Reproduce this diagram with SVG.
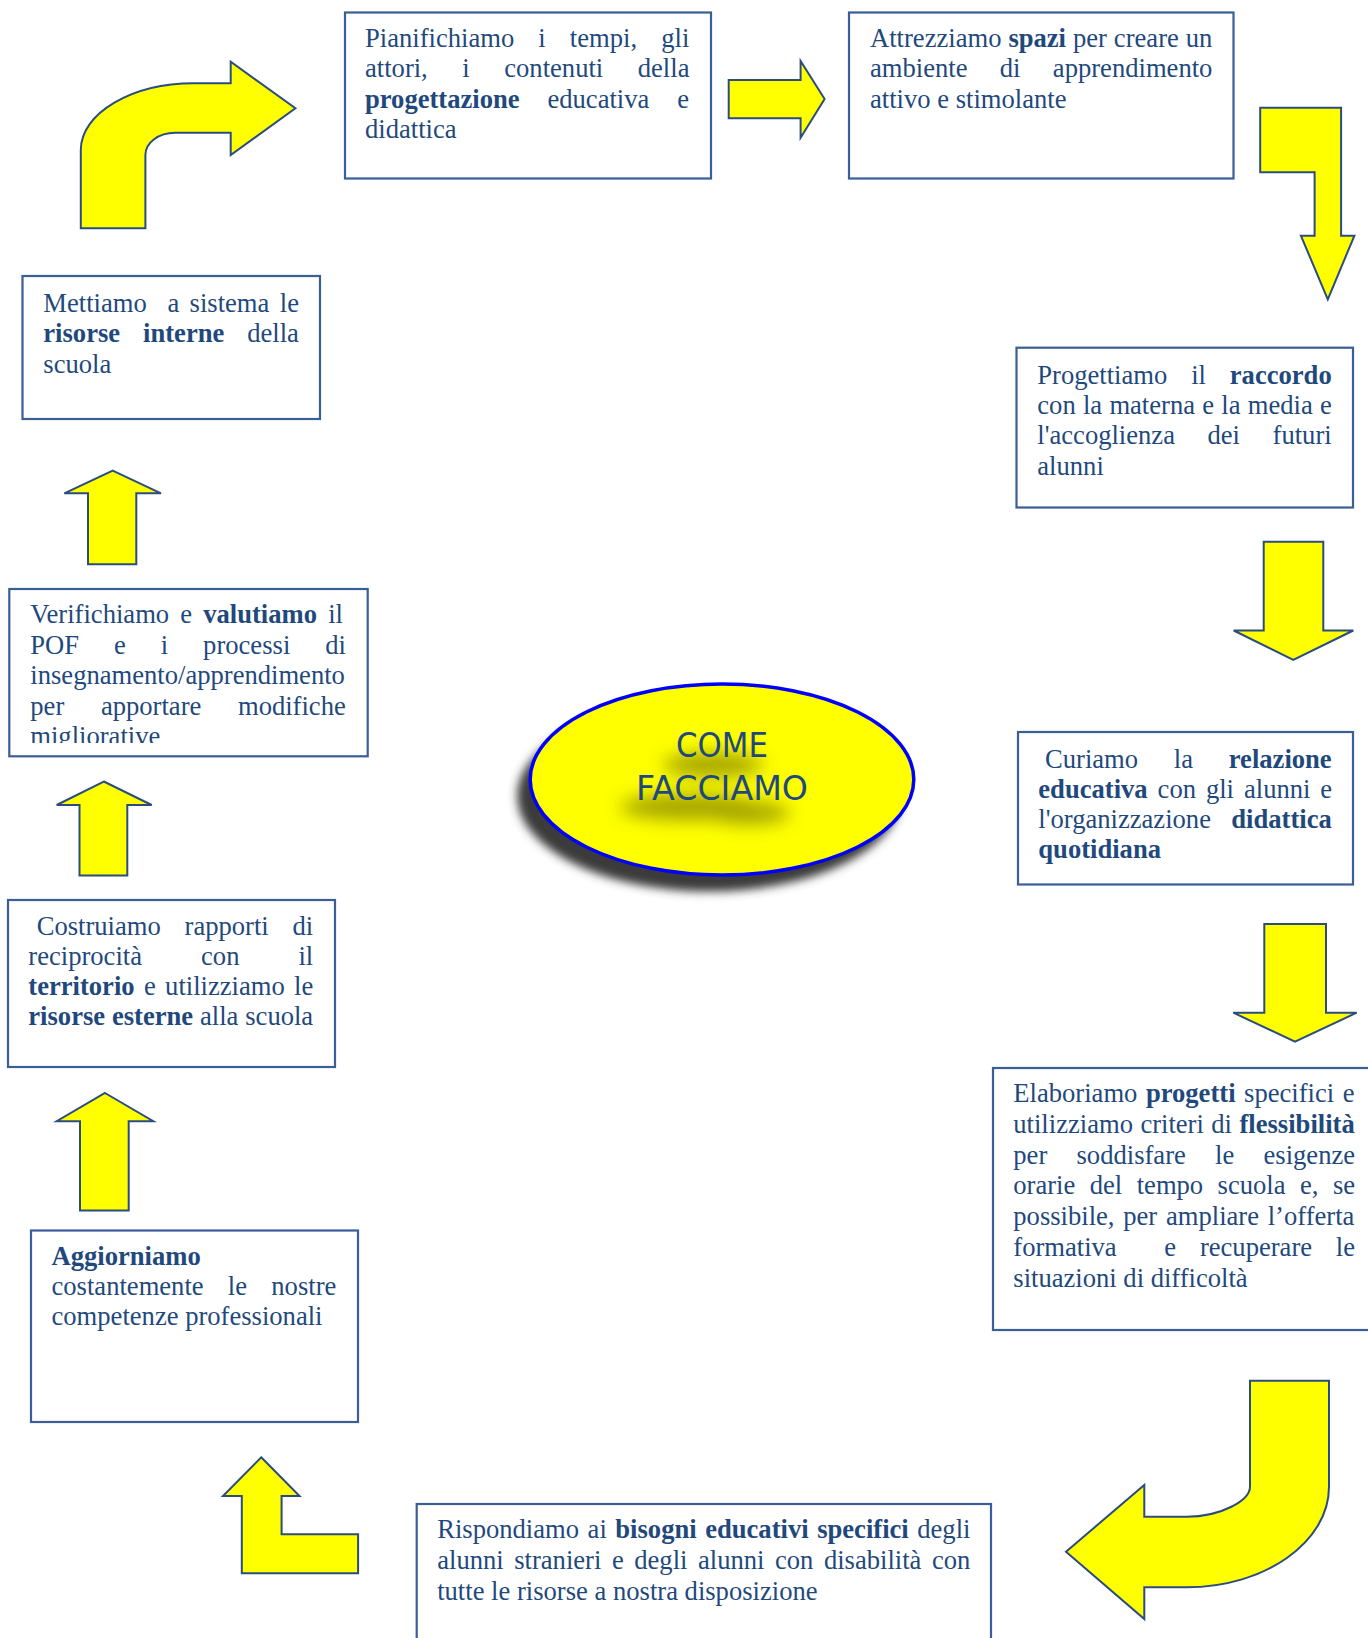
<svg xmlns="http://www.w3.org/2000/svg" width="1368" height="1638" viewBox="0 0 1368 1638">
<style>
.box{fill:#ffffff;stroke:#3A5E96;stroke-width:2.2}
.arr{fill:#FFFF00;stroke:#2B4C7E;stroke-width:2;stroke-linejoin:miter}
.t{font-family:"Liberation Serif","Times New Roman",serif;font-size:26.6px;fill:#1F497D}
.b{font-weight:bold}
.c{font-family:"Comic Sans MS","DejaVu Sans",sans-serif;font-size:33px;text-anchor:middle}
</style>
<defs>
<filter id="sh" x="-20%" y="-30%" width="140%" height="160%"><feGaussianBlur stdDeviation="5"/></filter>
<filter id="gl" x="-50%" y="-100%" width="200%" height="300%"><feGaussianBlur stdDeviation="9"/></filter>
<clipPath id="clip9"><rect x="9" y="589" width="359" height="154"/></clipPath>
</defs>

<g id="connectors">
<path class="arr" d="M80.8,228.3 L80.8,150 C80.8,113.3 131.6,83.3 193.8,83.3 L230.7,83.3 L230.7,61.7 L295.4,108.3 L230.7,155 L230.7,132.7 L175,132.7 C158.7,132.7 145.4,142.7 145.4,155 L145.4,228.3 Z"/>
<path class="arr" d="M728.7,80 L800.6,80 L800.6,61 L824.6,99 L800.6,137.7 L800.6,118.3 L728.7,118.3 Z"/>
<path class="arr" d="M1260.2,107.7 L1341.1,107.7 L1341.1,235.7 L1354.4,235.7 L1327.8,299.3 L1300.9,235.7 L1314.6,235.7 L1314.6,172.3 L1260.2,172.3 Z"/>
<path class="arr" d="M1263.7,541.8 L1323.3,541.8 L1323.3,630.5 L1353.3,630.5 L1293.3,660 L1233.7,630.5 L1263.7,630.5 Z"/>
<path class="arr" d="M1264.3,924 L1326,924 L1326,1012.7 L1356.7,1012.7 L1295,1041.7 L1233.3,1012.7 L1264.3,1012.7 Z"/>
<path class="arr" d="M1250,1380.7 L1329,1380.7 L1329,1486.7 C1329,1542 1265,1587.3 1186.7,1587.3 L1144.3,1587.3 L1144.3,1619 L1066,1551.7 L1144.3,1485 L1144.3,1516.7 L1186.7,1516.7 C1221.5,1516.7 1250,1500.2 1250,1486.7 Z"/>
<path class="arr" d="M261.2,1457.3 L299.5,1496 L281.6,1496 L281.6,1534.3 L358.1,1534.3 L358.1,1573.3 L241.8,1573.3 L241.8,1496 L223,1496 Z"/>
<path class="arr" d="M105,1093 L153.3,1121.2 L128.7,1121.2 L128.7,1210.5 L80,1210.5 L80,1121.2 L56.7,1121.2 Z"/>
<path class="arr" d="M103.8,781.5 L151.7,805 L127.3,805 L127.3,875.5 L79.5,875.5 L79.5,805 L56.7,805 Z"/>
<path class="arr" d="M112.7,470.7 L161,493.3 L136.3,493.3 L136.3,564.3 L88,564.3 L88,493.3 L64.3,493.3 Z"/>
</g>

<g id="center">
<ellipse cx="709" cy="796" rx="191.8" ry="95.5" fill="#3a3a3a" filter="url(#sh)"/>
<ellipse cx="722" cy="779.5" rx="191.8" ry="95.5" fill="#FFFF00" stroke="#0000FF" stroke-width="3.5"/>
<g filter="url(#gl)" fill="#8c8c00" opacity="0.8">
<ellipse cx="713" cy="765" rx="50" ry="12"/>
<ellipse cx="690" cy="807" rx="70" ry="13"/>
<ellipse cx="748" cy="813" rx="42" ry="11"/>
</g>
<text class="c" x="722" y="756.7" fill="#1F497D" textLength="92" lengthAdjust="spacingAndGlyphs">COME</text>
<text class="c" x="722" y="800" fill="#1F497D" textLength="172" lengthAdjust="spacingAndGlyphs">FACCIAMO</text>
</g>

<g id="n1">
<rect class="box" x="345" y="12.5" width="366" height="166"/>
<text class="t" x="365" y="46.5" style="word-spacing:17.5px">Pianifichiamo i tempi, gli</text>
<text class="t" x="365" y="77.1" style="word-spacing:27.9px">attori, i contenuti della</text>
<text class="t" x="365" y="107.7" style="word-spacing:21.2px"><tspan class="b">progettazione</tspan> educativa e</text>
<text class="t" x="365" y="138.3">didattica</text>
</g>

<g id="n2">
<rect class="box" x="849" y="12.5" width="384.5" height="166"/>
<text class="t" x="870" y="46.5" style="word-spacing:0.3px">Attrezziamo <tspan class="b">spazi</tspan> per creare un</text>
<text class="t" x="870" y="77.1" style="word-spacing:25.7px">ambiente di apprendimento</text>
<text class="t" x="870" y="107.7">attivo e stimolante</text>
</g>

<g id="n3">
<rect class="box" x="1016.5" y="347.7" width="336.5" height="159.8"/>
<text class="t" x="1037.3" y="383.5" style="word-spacing:17.2px">Progettiamo il <tspan class="b">raccordo</tspan></text>
<text class="t" x="1037.3" y="413.9" style="word-spacing:0.6px">con la materna e la media e</text>
<text class="t" x="1037.3" y="444.3" style="word-spacing:25.9px">l'accoglienza dei futuri</text>
<text class="t" x="1037.3" y="474.7">alunni</text>
</g>

<g id="n4">
<rect class="box" x="1018" y="732" width="335" height="152.5"/>
<text class="t" x="1045" y="767.5" style="word-spacing:29.1px">Curiamo la <tspan class="b">relazione</tspan></text>
<text class="t" x="1038.3" y="797.8" style="word-spacing:3.3px"><tspan class="b">educativa</tspan> con gli alunni e</text>
<text class="t" x="1038.3" y="828.1" style="word-spacing:13.7px">l'organizzazione <tspan class="b">didattica</tspan></text>
<text class="t" x="1038.3" y="858.4"><tspan class="b">quotidiana</tspan></text>
</g>

<g id="n5">
<rect class="box" x="993" y="1068" width="385" height="262"/>
<text class="t" x="1013.3" y="1102.3" style="word-spacing:1.9px">Elaboriamo <tspan class="b">progetti</tspan> specifici e</text>
<text class="t" x="1013.3" y="1133" style="word-spacing:0.8px">utilizziamo criteri di <tspan class="b">flessibilità</tspan></text>
<text class="t" x="1013.3" y="1163.7" style="word-spacing:22.6px">per soddisfare le esigenze</text>
<text class="t" x="1013.3" y="1194.4" style="word-spacing:7.8px">orarie del tempo scuola e, se</text>
<text class="t" x="1013.3" y="1225.1" style="word-spacing:2.1px">possibile, per ampliare l’offerta</text>
<text class="t" x="1013.3" y="1255.8">formativa</text>
<text class="t" x="1164.3" y="1255.8">e</text>
<text class="t" x="1199.9" y="1255.8">recuperare</text>
<text class="t" x="1355" y="1255.8" text-anchor="end">le</text>
<text class="t" x="1013.3" y="1286.5">situazioni di difficoltà</text>
</g>

<g id="n6">
<rect class="box" x="416.7" y="1504" width="574.3" height="145"/>
<text class="t" x="437.2" y="1538.3" style="word-spacing:1.9px">Rispondiamo ai <tspan class="b">bisogni educativi specifici</tspan> degli</text>
<text class="t" x="437.2" y="1569.1" style="word-spacing:3.9px">alunni stranieri e degli alunni con disabilità con</text>
<text class="t" x="437.2" y="1599.9">tutte le risorse a nostra disposizione</text>
</g>

<g id="n7">
<rect class="box" x="31" y="1230.5" width="327" height="191.5"/>
<text class="t" x="51.5" y="1264.5"><tspan class="b">Aggiorniamo</tspan></text>
<text class="t" x="51.5" y="1294.9" style="word-spacing:17.6px">costantemente le nostre</text>
<text class="t" x="51.5" y="1325.3">competenze professionali</text>
</g>

<g id="n8">
<rect class="box" x="8" y="900" width="327" height="167"/>
<text class="t" x="36.7" y="934.8" style="word-spacing:17.1px">Costruiamo rapporti di</text>
<text class="t" x="28.3" y="965" style="word-spacing:52.4px">reciprocità con il</text>
<text class="t" x="28.3" y="995.2" style="word-spacing:2.7px"><tspan class="b">territorio</tspan> e utilizziamo le</text>
<text class="t" x="28.3" y="1025.4" style="word-spacing:0.2px"><tspan class="b">risorse esterne</tspan> alla scuola</text>
</g>

<g id="n9">
<rect class="box" x="9.3" y="589" width="358.4" height="167.3"/>
<g clip-path="url(#clip9)">
<text class="t" x="30.3" y="623.3" style="word-spacing:4.5px">Verifichiamo e <tspan class="b">valutiamo</tspan> il</text>
<text class="t" x="30.3" y="653.7" style="word-spacing:28.3px">POF e i processi di</text>
<text class="t" x="30.3" y="684.1">insegnamento/apprendimento</text>
<text class="t" x="30.3" y="714.5" style="word-spacing:30px">per apportare modifiche</text>
<text class="t" x="30.3" y="744.9">migliorative</text>
</g>
</g>

<g id="n10">
<rect class="box" x="22.5" y="276" width="297.5" height="143"/>
<text class="t" x="43.3" y="311.5">Mettiamo</text>
<text class="t" x="167.4" y="311.5">a</text>
<text class="t" x="189.6" y="311.5">sistema</text>
<text class="t" x="299" y="311.5" text-anchor="end">le</text>
<text class="t" x="43.3" y="342" style="word-spacing:16.3px"><tspan class="b">risorse interne</tspan> della</text>
<text class="t" x="43.3" y="372.5">scuola</text>
</g>
</svg>
